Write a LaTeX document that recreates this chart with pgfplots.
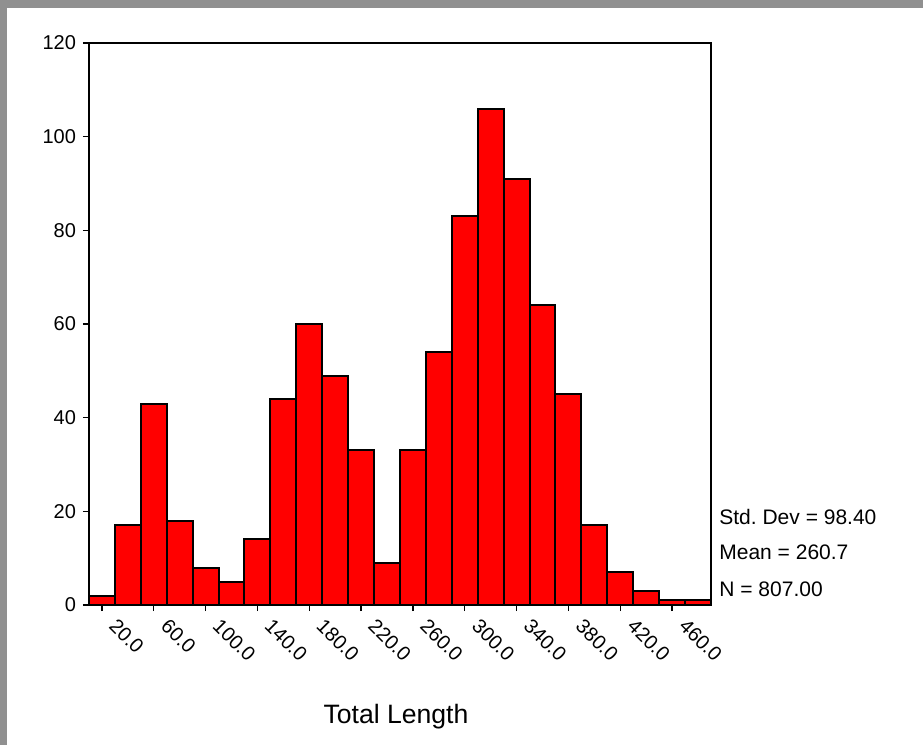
\documentclass[border=0pt]{standalone}
\usepackage{fontspec}
\setmainfont{Liberation Sans}
\usepackage{pgfplots}
\pgfplotsset{compat=1.18}

\definecolor{bggray}{HTML}{909090}
\definecolor{barred}{HTML}{FF0000}

\begin{document}
\begin{tikzpicture}
    % frame: gray edge at top and left, white page
    \fill[bggray] (0pt,0pt) rectangle (461.5pt,-372.5pt);
    \fill[white] (3.5pt,-4pt) rectangle (461.5pt,-372.5pt);

    \begin{axis}[
        at={(44.5pt,-302.5pt)}, anchor=south west,
        width=311pt, height=281pt, scale only axis=true,
        xmin=10, xmax=490, ymin=0, ymax=120,
        axis line style={line width=0.8pt},
        ytick={0,20,...,120},
        xtick={20,60,...,460},
        tick align=outside, major tick length=3pt,
        tick style={black, line width=0.7pt},
        xtick pos=bottom, ytick pos=left,
        /pgf/number format/assume math mode=true,
        xticklabel style={font=\fontsize{10}{12}\selectfont, xshift=8pt, yshift=-1.5pt,
            rotate=-45, anchor=north west, inner sep=1pt,
            /pgf/number format/.cd, fixed, fixed zerofill, precision=1},
        yticklabel style={font=\fontsize{10}{12}\selectfont},
        clip=false,
    ]
    \addplot[ybar interval, fill=barred, draw=black, line width=1pt] coordinates {
        (10, 2)
        (30, 17)
        (50, 43)
        (70, 18)
        (90, 8)
        (110, 5)
        (130, 14)
        (150, 44)
        (170, 60)
        (190, 49)
        (210, 33)
        (230, 9)
        (250, 33)
        (270, 54)
        (290, 83)
        (310, 106)
        (330, 91)
        (350, 64)
        (370, 45)
        (390, 17)
        (410, 7)
        (430, 3)
        (450, 1)
        (470, 1)
        (490, 0)
    };
    \end{axis}

    \begin{scope}[font=\fontsize{10.5}{12}\selectfont]
        \node[anchor=west, inner sep=0pt] at (359.5pt,-258.3pt) {Std.\ Dev = 98.40};
        \node[anchor=west, inner sep=0pt] at (359.5pt,-276.3pt) {Mean = 260.7};
        \node[anchor=west, inner sep=0pt] at (359.5pt,-294.5pt) {N = 807.00};
    \end{scope}
    \node[font=\fontsize{13.3}{15}\selectfont, inner sep=0pt] at (198pt,-358.5pt) {Total Length};
\end{tikzpicture}
\end{document}
